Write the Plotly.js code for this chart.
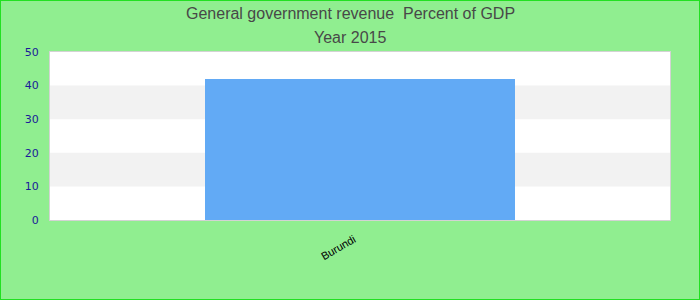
<!DOCTYPE html>
<html>
<head>
<meta charset="utf-8">
<script src="https://cdn.plot.ly/plotly-3.0.1.min.js"></script>
<style>
html,body{margin:0;padding:0;background:#90EE90;}
#chart{width:700px;height:300px;box-sizing:border-box;border:1px solid #22e022;}
</style>
</head>
<body>
<div id="chart"></div>
<script>
const categories = ["Burundi"];
const values = [42];
const titleLines = ["General government revenue  Percent of GDP", "Year 2015"];
const yTicks = [0, 10, 20, 30, 40, 50];
const bandRanges = [[10, 20], [30, 40]];

const shapes = bandRanges.map(r => ({
  type: 'rect', xref: 'paper', yref: 'y', x0: 0, x1: 1, y0: r[0], y1: r[1],
  fillcolor: '#f2f2f2', line: {width: 0}, layer: 'below'
}));

const plotLeft = 49, plotW = 620, plotTop = 51, plotH = 168;
const titleY = [13, 36];
const annotations = titleLines.map((t, i) => ({
  text: t, xref: 'paper', yref: 'paper', x: (349 - plotLeft) / plotW, xanchor: 'center',
  y: 1 + (plotTop - titleY[i]) / plotH, yanchor: 'middle', showarrow: false,
  font: {family: 'Liberation Sans, Arial, sans-serif', size: 16, color: '#484848'}
}));

Plotly.newPlot('chart', [{
  type: 'bar', x: categories, y: values, width: 0.5,
  marker: {color: '#62aaf5'}, hoverinfo: 'x+y'
}], {
  width: 698, height: 298,
  paper_bgcolor: '#90EE90', plot_bgcolor: '#ffffff',
  margin: {l: plotLeft, r: 29, t: plotTop, b: 79},
  annotations: annotations,
  shapes: shapes,
  xaxis: {type: 'category', range: [-0.5, 0.5], tickangle: -30, showgrid: false,
          tickfont: {family: 'Liberation Sans, Arial, sans-serif', size: 11, color: '#000000'},
          ticklabelstandoff: 8, ticklabelshift: -6,
          showline: true, mirror: true, linecolor: '#d3d3d3', linewidth: 1, zeroline: false, ticks: ''},
  yaxis: {range: [0, 50], tickvals: yTicks, showgrid: false, zeroline: false,
          tickfont: {family: 'DejaVu Sans, sans-serif', size: 11, color: '#1a1a99'},
          ticklabelstandoff: 8,
          showline: true, mirror: true, linecolor: '#d3d3d3', linewidth: 1, ticks: ''},
  showlegend: false
}, {displayModeBar: false});
</script>
</body>
</html>
